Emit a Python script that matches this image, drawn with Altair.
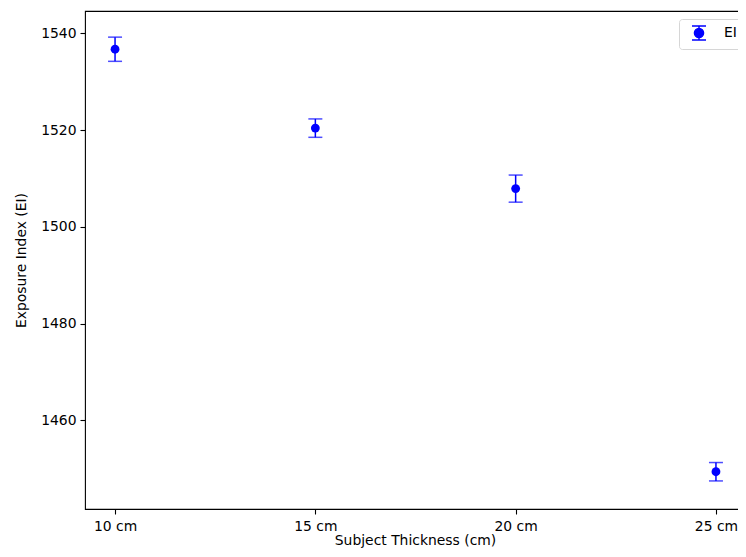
import altair as alt
import pandas as pd
import json

thickness = ["10 cm", "15 cm", "20 cm", "25 cm"]
ei_mean = [1536.7, 1520.4, 1507.9, 1449.4]
ei_err = [2.5, 1.9, 2.8, 1.9]
series_name = "EI"

df = pd.DataFrame({
    "idx": list(range(len(thickness))),
    "label": thickness,
    "ei": ei_mean,
    "lo": [m - e for m, e in zip(ei_mean, ei_err)],
    "hi": [m + e for m, e in zip(ei_mean, ei_err)],
    "series": [series_name] * len(thickness),
})

BLUE = "#0000ff"
label_expr = json.dumps(thickness) + "[datum.value]"

x_enc = alt.X(
    "idx:Q",
    scale=alt.Scale(domain=[-0.15, 3.15], nice=False, zero=False),
    axis=alt.Axis(values=list(range(len(thickness))), labelExpr=label_expr,
                  title="Subject Thickness (cm)", titleX=330, titleY=35.5,
                  titleBaseline="alphabetic", labelPadding=5),
)
y_scale = alt.Scale(domain=[1441.7, 1544.6], nice=False, zero=False)

base = alt.Chart(df)

err = base.mark_rule(color=BLUE, strokeWidth=1.5).encode(
    x=x_enc,
    y=alt.Y("lo:Q", scale=y_scale,
            axis=alt.Axis(values=[1460, 1480, 1500, 1520, 1540], format="d",
                          title="Exposure Index (EI)", titlePadding=12)),
    y2="hi:Q",
)
cap_hi = base.mark_tick(color=BLUE, orient="horizontal", size=14, thickness=1.5).encode(
    x="idx:Q", y="hi:Q")
cap_lo = base.mark_tick(color=BLUE, orient="horizontal", size=14, thickness=1.5).encode(
    x="idx:Q", y="lo:Q")

sym = "M-1,-1H1M0,-1V1M-1,1H1M0.65,0A0.65,0.65 0 1,1 -0.65,0A0.65,0.65 0 1,1 0.65,0Z"
pts = base.mark_circle(size=78, opacity=1).encode(
    x="idx:Q",
    y="ei:Q",
    color=alt.Color("series:N", scale=alt.Scale(range=[BLUE]),
                    legend=alt.Legend(title=None, orient="none", legendX=594, legendY=8,
                                      symbolType=sym, symbolSize=196,
                                      symbolStrokeWidth=1.5, symbolStrokeColor=BLUE,
                                      symbolFillColor=BLUE, symbolOpacity=1,
                                      symbolOffset=6, labelOffset=17,
                                      padding=6, fillColor="white",
                                      strokeColor="#d6d6d6", cornerRadius=3,
                                      labelFontSize=13.9, labelFont="DejaVu Sans",
                                      labelColor="black")),
)

chart = alt.layer(err, cap_hi, cap_lo, pts).properties(
    width=661, height=498,
    autosize=alt.AutoSizeParams(type="none"),
    padding={"left": 77, "top": 3, "right": -8, "bottom": 40},
).configure_view(
    stroke="black", strokeWidth=1.1
).configure_axis(
    grid=False, domain=False,
    labelFont="DejaVu Sans", labelFontSize=13.9, labelColor="black",
    titleFont="DejaVu Sans", titleFontSize=13.9, titleColor="black", titleFontWeight="normal",
    tickColor="black", tickSize=5, tickWidth=1.1, labelPadding=4,
)

chart.save("out.html", embed_options={"renderer": "svg", "actions": False})
